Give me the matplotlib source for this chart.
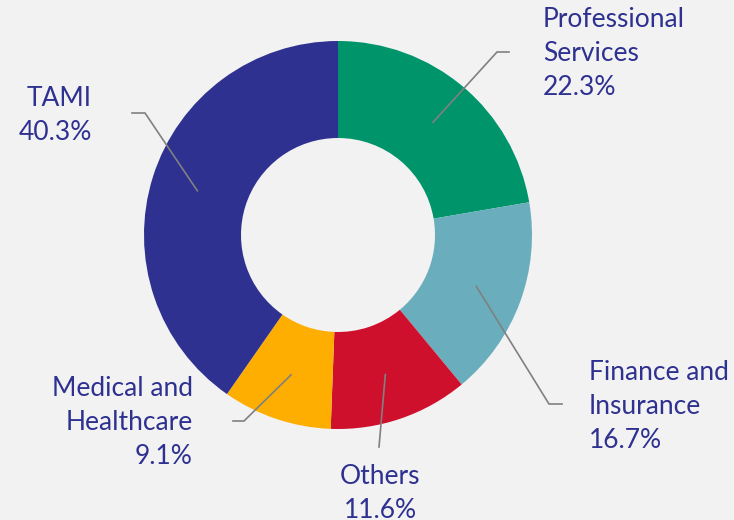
import numpy as np
import matplotlib.pyplot as plt

# sector shares (%), clockwise from 12 o'clock
sectors = ['Professional\nServices', 'Finance and\nInsurance', 'Others',
           'Medical and\nHealthcare', 'TAMI']
shares = [22.3, 16.7, 11.6, 9.1, 40.3]
colors = ['#00946a', '#6aaebe', '#cf102d', '#fdae00', '#2e3190']

plt.rcParams['font.family'] = ['Lato', 'DejaVu Sans']
txt_col = '#2e3190'
bg = '#f2f2f2'

fig = plt.figure(figsize=(7.34, 5.20), dpi=100, facecolor=bg)
ax = fig.add_axes([0, 0, 1, 1])
ax.set_facecolor(bg)

# one data unit = outer radius (194 px); centre at pixel (338, 235)
R = 194.0
cx, cy = 338, 235
def px(x, y):
    return (x - cx) / R, (cy - y) / R

wedges, _ = ax.pie(shares, colors=colors, startangle=90, counterclock=False,
                   radius=1.0, wedgeprops=dict(width=0.5, linewidth=0))

# elbow + end of the leader lines, and label anchor (pixels)
elbows = [(497, 52, 509, 52), (549, 404, 562, 404), (379, 447, 379, 447),
          (244, 421, 233, 421), (145, 113, 132, 113)]
anchors = [(543, 53, 'left'), (589, 406, 'left'), (380, 494, 'center'),
           (193, 422, 'right'), (92, 115, 'right')]

for w, name, val, el, an in zip(wedges, sectors, shares, elbows, anchors):
    mid = np.deg2rad((w.theta1 + w.theta2) / 2)
    r0 = 0.76
    x0, y0 = r0 * np.cos(mid), r0 * np.sin(mid)
    x1, y1 = px(el[0], el[1])
    x2, y2 = px(el[2], el[3])
    ax.plot([x0, x1, x2], [y0, y1, y2], color='#808080', lw=1.2,
            solid_joinstyle='miter')
    tx, ty = px(an[0], an[1])
    ax.text(tx, ty, f'{name}\n{val:.1f}%', ha=an[2], va='center',
            multialignment=an[2], fontsize=19, color=txt_col,
            linespacing=1.45)

ax.set_aspect('auto')
ax.set_xlim(-cx / R, (734 - cx) / R)
ax.set_ylim(-(520 - cy) / R, cy / R)
ax.axis('off')

fig.savefig('out.png', dpi=100, facecolor=bg)
